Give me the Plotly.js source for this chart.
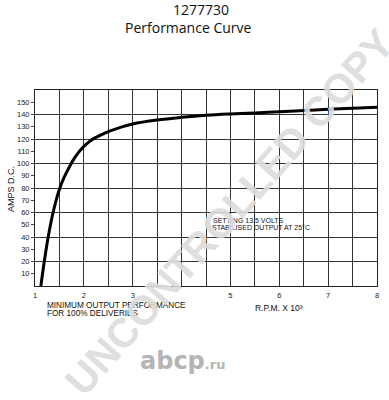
<!DOCTYPE html>
<html>
<head>
<meta charset="utf-8">
<script src="https://cdn.plot.ly/plotly-3.0.1.min.js"></script>
<style>html,body{margin:0;padding:0;background:#fff;}#chart{width:389px;height:400px;}</style>
</head>
<body>
<div id="chart"></div>
<script>
// Data
const rpm = [1.12, 1.19, 1.27, 1.37, 1.5, 1.6, 1.7, 1.8, 1.9, 2.0, 2.1, 2.2, 2.35, 2.5, 2.75, 3.0, 3.5, 4.0, 4.5, 5.0, 5.5, 6.0, 6.5, 7.0, 7.5, 8.0];
const amps = [0, 20, 40, 60, 79, 89, 97, 104, 109.5, 114, 117.5, 120.3, 123.3, 126, 129.5, 132.3, 135.5, 137.7, 139.4, 140.5, 141.3, 142.2, 143.2, 144.2, 145.1, 146];

const xTickVals = [1, 1.5, 2, 2.5, 3, 3.5, 4, 4.5, 5, 5.5, 6, 6.5, 7, 7.5, 8];
const xTickText = ['1', '', '2', '', '3', '', '', '', '5', '', '6', '', '7', '', '8'];
const yTickVals = [10, 20, 30, 40, 50, 60, 70, 80, 90, 100, 110, 120, 130, 140, 150];
const yTickText = yTickVals.map(String);
const yGridVals = [20, 40, 60, 80, 100, 120, 140];

const titleLine1 = '1277730';
const titleLine2 = 'Performance Curve';
const yTitle = 'AMPS D.C.';
const noteLine1 = 'MINIMUM OUTPUT PERFORMANCE';
const noteLine2 = 'FOR 100% DELIVERIES';
const xTitle = 'R.P.M. X 10³';
const setLine1 = 'SETTING 13.5 VOLTS';
const setLine2 = 'STABILISED OUTPUT AT 25°C';
const watermark = 'UNCONTROLLED COPY';

const sans = 'Liberation Sans, Arial, sans-serif';
const W = 389, H = 400, L = 35, R = 12, T = 90, B = 114;
const pw = W - L - R, ph = H - T - B;
const px = v => (v - L) / pw;          // pixel x -> paper x
const py = v => (H - B - v) / ph;      // pixel y -> paper y

const traces = [{
  x: rpm, y: amps, type: 'scatter', mode: 'lines',
  line: {color: '#000', width: 3, shape: 'spline', smoothing: 1},
  hoverinfo: 'skip', showlegend: false
}, {
  x: [1], y: [0], xaxis: 'x', yaxis: 'y2', type: 'scatter', mode: 'markers',
  marker: {opacity: 0}, hoverinfo: 'skip', showlegend: false
}];

const annotations = [
  {text: titleLine1, x: 189 / W, xref: 'paper', y: py(9), yref: 'paper', showarrow: false,
   font: {family: 'Open Sans, sans-serif', size: 14, color: '#111'}, xanchor: 'center', yanchor: 'middle'},
  {text: titleLine2, x: px(188), xref: 'paper', y: py(27), yref: 'paper', showarrow: false,
   font: {family: 'Open Sans, sans-serif', size: 14, color: '#111'}, xanchor: 'center', yanchor: 'middle'},
  {text: yTitle, x: px(11), xref: 'paper', y: py(189), yref: 'paper', showarrow: false, textangle: -90,
   font: {family: sans, size: 9, color: '#111'}, xanchor: 'center', yanchor: 'middle'},
  {text: noteLine1, x: px(45), xref: 'paper', y: py(305), yref: 'paper', showarrow: false,
   font: {family: sans, size: 8.2, color: '#111'}, xanchor: 'left', yanchor: 'middle'},
  {text: noteLine2, x: px(45), xref: 'paper', y: py(313), yref: 'paper', showarrow: false,
   font: {family: sans, size: 8.2, color: '#111'}, xanchor: 'left', yanchor: 'middle'},
  {text: xTitle, x: px(253), xref: 'paper', y: py(308), yref: 'paper', showarrow: false,
   font: {family: sans, size: 8.5, color: '#111'}, xanchor: 'left', yanchor: 'middle'},
  {text: setLine1, x: px(211), xref: 'paper', y: py(220.5), yref: 'paper', showarrow: false,
   font: {family: sans, size: 7, color: '#111'}, xanchor: 'left', yanchor: 'middle'},
  {text: setLine2, x: px(210), xref: 'paper', y: py(227), yref: 'paper', showarrow: false,
   font: {family: sans, size: 7, color: '#111'}, xanchor: 'left', yanchor: 'middle'},
  {text: watermark, x: px(230), xref: 'paper', y: py(212), yref: 'paper', showarrow: false, textangle: -48.5,
   font: {family: sans, size: 41, color: 'rgba(220,220,220,0.92)', weight: 'bold'}, xanchor: 'center', yanchor: 'middle'},
  {text: 'abcp<span style="font-size:13px">.ru</span>', x: px(138), xref: 'paper', y: py(361), yref: 'paper', showarrow: false,
   font: {family: 'DejaVu Sans, sans-serif', size: 24, color: '#b5b5b5', weight: 'bold'}, xanchor: 'left', yanchor: 'middle'}
];

const layout = {
  width: W, height: H,
  margin: {l: L, r: R, t: T, b: B, pad: 0},
  paper_bgcolor: '#fff', plot_bgcolor: '#fff',
  showlegend: false,
  xaxis: {
    range: [1, 8], tickmode: 'array', tickvals: xTickVals, ticktext: xTickText,
    showgrid: true, gridcolor: '#333', gridwidth: 1, zeroline: false,
    showline: true, linecolor: '#222', linewidth: 1, mirror: true,
    ticks: '', ticklabelstandoff: 2,
    tickfont: {family: sans, size: 7.5, color: '#222'}, fixedrange: true
  },
  yaxis: {
    range: [0, 160], tickmode: 'array', tickvals: yTickVals, ticktext: yTickText,
    showgrid: false, zeroline: false,
    showline: true, linecolor: '#222', linewidth: 1, mirror: true,
    ticks: 'outside', ticklen: 3, tickcolor: '#444', tickwidth: 1,
    tickfont: {family: sans, size: 7.5, color: '#222'}, fixedrange: true
  },
  yaxis2: {
    overlaying: 'y', range: [0, 160], tickmode: 'array', tickvals: yGridVals,
    showgrid: true, gridcolor: '#333', gridwidth: 1, showticklabels: false, ticks: '',
    zeroline: false, showline: false, fixedrange: true
  },
  annotations: annotations
};

Plotly.newPlot('chart', traces, layout, {displayModeBar: false, staticPlot: true});
</script>
</body>
</html>
